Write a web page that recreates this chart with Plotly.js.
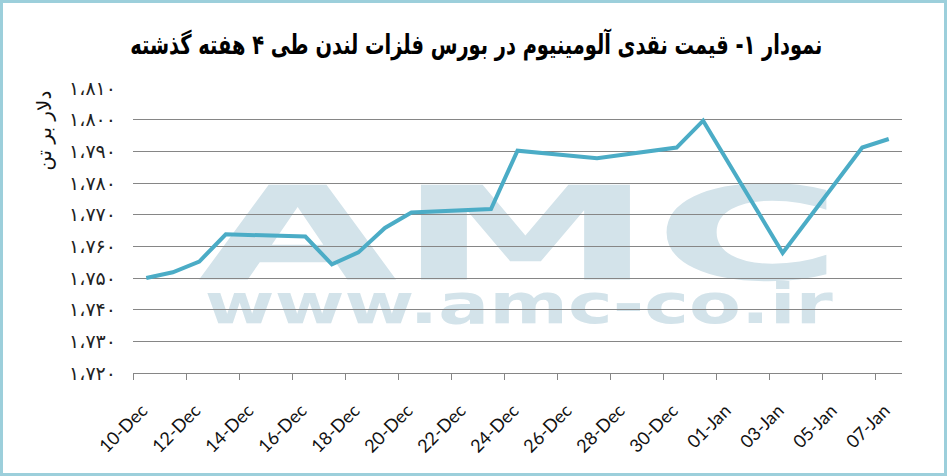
<!DOCTYPE html>
<html><head><meta charset="utf-8">
<script src="https://cdn.plot.ly/plotly-3.0.1.min.js"></script>
<style>
html,body{margin:0;padding:0;background:#fff;}
#wrap{position:relative;width:947px;height:476px;overflow:hidden;}
#chart{width:947px;height:476px;}
#frame{position:absolute;left:0;top:0;width:947px;height:476px;box-sizing:border-box;border:3px solid #9ccfdb;pointer-events:none;}
</style></head><body>
<div id="wrap"><div id="chart"></div><div id="frame"></div></div>
<script>
const dates = ['2013-12-10','2013-12-11','2013-12-12','2013-12-13','2013-12-16','2013-12-17','2013-12-18','2013-12-19','2013-12-20','2013-12-23','2013-12-24','2013-12-27','2013-12-30','2013-12-31','2014-01-03','2014-01-06','2014-01-07'];
const prices = [1750.0,1751.8,1755.2,1763.8,1763.1,1754.3,1758.1,1765.8,1770.7,1771.8,1790.2,1787.8,1791.2,1799.7,1757.9,1791.2,1793.9];
const xTickDates = ['2013-12-10','2013-12-12','2013-12-14','2013-12-16','2013-12-18','2013-12-20','2013-12-22','2013-12-24','2013-12-26','2013-12-28','2013-12-30','2014-01-01','2014-01-03','2014-01-05','2014-01-07'];
const xTickLabels = ['10-Dec','12-Dec','14-Dec','16-Dec','18-Dec','20-Dec','22-Dec','24-Dec','26-Dec','28-Dec','30-Dec','01-Jan','03-Jan','05-Jan','07-Jan'];
const yTickValues = [1720,1730,1740,1750,1760,1770,1780,1790,1800,1810];
const yTickLabels = ['۱،۷۲۰','۱،۷۳۰','۱،۷۴۰','۱،۷۵۰','۱،۷۶۰','۱،۷۷۰','۱،۷۸۰','۱،۷۹۰','۱،۸۰۰','۱،۸۱۰'];
const chartTitle = 'نمودار ۱- قیمت نقدی آلومینیوم در بورس فلزات لندن طی ۴ هفته گذشته';
const yAxisTitle = 'دلار بر تن';
const watermarkLogo = 'AMC';
const watermarkUrl = 'www.amc-co.ir';

const wmColor = '#d3e3ea';
const data = [{
  type: 'scatter', mode: 'lines', x: dates, y: prices,
  line: {color: '#4BACC6', width: 4, shape: 'linear'},
  hoverinfo: 'skip'
}];

const layout = {
  width: 947, height: 476,
  margin: {l: 133, r: 45, t: 88, b: 103, pad: 0},
  paper_bgcolor: '#ffffff', plot_bgcolor: '#ffffff',
  showlegend: false,
  title: {
    text: chartTitle, xref: 'container', x: 0.503, xanchor: 'center',
    yref: 'container', y: 0.907, yanchor: 'middle',
    font: {family: 'DejaVu Sans', size: 27, color: '#000000', weight: 700}
  },
  xaxis: {
    type: 'date',
    range: ['2013-12-09 12:00', '2014-01-07 12:00'],
    tickmode: 'array', tickvals: xTickDates, ticktext: xTickLabels,
    tickangle: -45, ticks: '', ticklabelstandoff: 19, ticklabelshift: -4,
    tickfont: {family: 'Lato', size: 18, color: '#111111'},
    showgrid: false, zeroline: false,
    showline: true, linecolor: '#868686', linewidth: 1,
    minor: {tick0: '2013-12-09 12:00', dtick: 172800000, ticks: 'outside', ticklen: 6, tickcolor: '#868686', tickwidth: 1, showgrid: false},
    fixedrange: true
  },
  yaxis: {
    range: [1720, 1810],
    tickmode: 'array', tickvals: yTickValues, ticktext: yTickLabels,
    ticks: '', ticklabelstandoff: 16,
    tickfont: {family: 'DejaVu Sans', size: 19, color: '#222222'},
    showgrid: true, gridcolor: '#868686', gridwidth: 1,
    zeroline: false, showline: false, fixedrange: true
  },
  shapes: [
    {type: 'rect', layer: 'below', xref: 'paper', yref: 'paper', x0: 0.0845, x1: 0.923, y0: 0.351, y1: 0.684,
     line: {width: 0}, fillcolor: 'rgba(0,0,0,0)',
     label: {text: watermarkLogo, textposition: 'middle center', font: {family: 'DejaVu Sans', size: 130, color: wmColor, weight: 900}}},
    {type: 'rect', layer: 'below', xref: 'paper', yref: 'paper', x0: 0.0936, x1: 0.910, y0: 0.193, y1: 0.319,
     line: {width: 0}, fillcolor: 'rgba(0,0,0,0)',
     label: {text: watermarkUrl, textposition: 'middle center', font: {family: 'DejaVu Sans', size: 55, color: wmColor, weight: 900}}}
  ],
  annotations: [
    {text: yAxisTitle, xref: 'paper', yref: 'paper', x: -0.1157, y: 0.85, xanchor: 'center', yanchor: 'middle',
     textangle: -90, showarrow: false, font: {family: 'DejaVu Sans', size: 20, color: '#111111'}}
  ]
};

Plotly.newPlot('chart', data, layout, {staticPlot: true, displayModeBar: false}).then(gd => {
  const texts = gd.querySelectorAll('.shapelayer text, text.shape-label');
  texts.forEach(t => {
    const s = t.textContent;
    if (s === watermarkLogo) { t.setAttribute('textLength', '645'); t.setAttribute('lengthAdjust', 'spacingAndGlyphs'); }
    if (s === watermarkUrl) { t.setAttribute('textLength', '628'); t.setAttribute('lengthAdjust', 'spacingAndGlyphs'); }
  });
  const tt = gd.querySelector('text.gtitle');
  if (tt) { tt.setAttribute('textLength', '692'); tt.setAttribute('lengthAdjust', 'spacingAndGlyphs'); }
});
</script>
</body></html>
